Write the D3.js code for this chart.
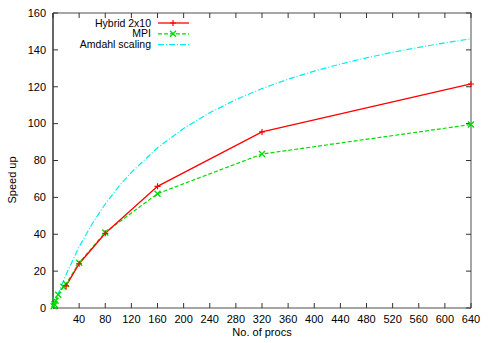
<!DOCTYPE html>
<html>
<head>
<meta charset="utf-8">
<script src="https://cdn.jsdelivr.net/npm/d3@7"></script>
<style>
  body { margin: 0; background: #fff; }
  svg { display: block; font-family: "Liberation Sans", Arial, sans-serif; font-size: 11px; }
</style>
</head>
<body>
<svg></svg>
<script>
// procs on the x axis
var hybridProcs = [20, 40, 80, 160, 320, 640];
var hybridSpeedup = [12, 24, 40.5, 66, 95.5, 121.5];

var mpiProcs = [1, 2, 4, 8, 16, 20, 40, 80, 160, 320, 640];
var mpiSpeedup = [1, 2, 3.9, 7.2, 11.5, 13, 24.5, 41, 62, 83.5, 99.5];

// Amdahl curve
var amdahlProcs = [1, 2, 5, 10, 20, 40, 60, 80, 100, 120, 160, 200, 240, 280, 320, 360, 400, 440, 480, 520, 560, 600, 640];
var amdahlSpeedup = [1, 2, 4.9, 9.5, 18.2, 33.2, 45.7, 56.4, 65.6, 73.6, 86.9, 97.4, 105.9, 113, 119, 124.1, 128.5, 132.3, 135.7, 138.7, 141.4, 143.8, 146];

var xTicks = [0, 40, 80, 120, 160, 200, 240, 280, 320, 360, 400, 440, 480, 520, 560, 600, 640];
var yTicks = [0, 20, 40, 60, 80, 100, 120, 140, 160];

var seriesNames = ["Hybrid 2x10", "MPI", "Amdahl scaling"];

var W = 491, H = 343;
var margin = {top: 13, right: 20, bottom: 35, left: 53},
    width = 471 - margin.left,
    height = 308 - margin.top;

var svg = d3.select("svg").attr("width", W).attr("height", H);
var g = svg.append("g").attr("transform", "translate(" + margin.left + "," + margin.top + ")");

var x = d3.scaleLinear().domain([0, 640]).range([0, width]);
var y = d3.scaleLinear().domain([0, 160]).range([height, 0]);

// border
g.append("line").attr("x1", 0).attr("x2", width).attr("y1", 0).attr("y2", 0).attr("stroke", "#888").attr("stroke-width", 1.5);
g.append("line").attr("x1", width).attr("x2", width).attr("y1", 0).attr("y2", height).attr("stroke", "#888").attr("stroke-width", 1.5);
g.append("line").attr("x1", 0).attr("x2", width).attr("y1", height).attr("y2", height).attr("stroke", "#888").attr("stroke-width", 1.5);
g.append("line").attr("x1", 0).attr("x2", 0).attr("y1", 0).attr("y2", height).attr("stroke", "#000").attr("stroke-width", 1.2);

// ticks (inward, mirrored)
var tk = 5;
g.selectAll(".xt").data(xTicks).enter().append("line")
    .attr("x1", function(d) { return x(d); }).attr("x2", function(d) { return x(d); })
    .attr("y1", height).attr("y2", height - tk).attr("stroke", "#333");
g.selectAll(".xt2").data(xTicks).enter().append("line")
    .attr("x1", function(d) { return x(d); }).attr("x2", function(d) { return x(d); })
    .attr("y1", 0).attr("y2", tk).attr("stroke", "#333");
g.selectAll(".yt").data(yTicks).enter().append("line")
    .attr("x1", 0).attr("x2", tk)
    .attr("y1", function(d) { return y(d); }).attr("y2", function(d) { return y(d); }).attr("stroke", "#333");
g.selectAll(".yt2").data(yTicks).enter().append("line")
    .attr("x1", width).attr("x2", width - tk)
    .attr("y1", function(d) { return y(d); }).attr("y2", function(d) { return y(d); }).attr("stroke", "#333");

// tick labels
g.selectAll(".xl").data(xTicks.filter(function(d) { return d > 0; })).enter().append("text")
    .attr("x", function(d) { return x(d); }).attr("y", height + 15)
    .attr("text-anchor", "middle").text(function(d) { return d; });
g.selectAll(".yl").data(yTicks).enter().append("text")
    .attr("x", -7).attr("y", function(d) { return y(d); }).attr("dy", "0.35em")
    .attr("text-anchor", "end").text(function(d) { return d; });

// axis titles
svg.append("text").attr("x", 262).attr("y", 336).attr("text-anchor", "middle").text("No. of procs");
svg.append("text").attr("transform", "translate(16,180) rotate(-90)").attr("text-anchor", "middle").text("Speed up");

var line = d3.line().x(function(d) { return x(d[0]); }).y(function(d) { return y(d[1]); });

var amdahl = d3.zip(amdahlProcs, amdahlSpeedup);
var hybrid = d3.zip(hybridProcs, hybridSpeedup);
var mpi = d3.zip(mpiProcs, mpiSpeedup);

var colors = ["#ff0000", "#00dd00", "#00eeee"];
var dashes = [null, "4,2", "6,2,1,2"];

g.append("path").datum(amdahl).attr("d", line).attr("fill", "none")
    .attr("stroke", colors[2]).attr("stroke-width", 1.2).attr("stroke-dasharray", dashes[2]);
g.append("path").datum(mpi).attr("d", line).attr("fill", "none")
    .attr("stroke", colors[1]).attr("stroke-width", 1.2).attr("stroke-dasharray", dashes[1]);
g.append("path").datum(hybrid).attr("d", line).attr("fill", "none")
    .attr("stroke", colors[0]).attr("stroke-width", 1.3);

function plus(sel, cx, cy, c) {
  sel.append("path").attr("d", "M" + (cx - 3) + "," + cy + "h6M" + cx + "," + (cy - 3) + "v6")
     .attr("stroke", c).attr("stroke-width", 1.2).attr("fill", "none");
}
function cross(sel, cx, cy, c) {
  sel.append("path").attr("d", "M" + (cx - 3) + "," + (cy - 3) + "l6,6M" + (cx - 3) + "," + (cy + 3) + "l6,-6")
     .attr("stroke", c).attr("stroke-width", 1.4).attr("fill", "none");
}

mpi.forEach(function(d) { cross(g, x(d[0]), y(d[1]), colors[1]); });
hybrid.forEach(function(d) { plus(g, x(d[0]), y(d[1]), colors[0]); });

// legend
var legend = svg.append("g").style("font-size", "10.5px");
seriesNames.forEach(function(name, i) {
  var ly = 23 + i * 10.8;
  legend.append("text").attr("x", 151).attr("y", ly).attr("dy", "0.35em")
      .attr("text-anchor", "end").text(name);
  legend.append("line").attr("x1", 158).attr("x2", 189).attr("y1", ly).attr("y2", ly)
      .attr("stroke", colors[i]).attr("stroke-width", i == 0 ? 1.3 : 1.2)
      .attr("stroke-dasharray", dashes[i]);
  if (i == 0) plus(legend, 173, ly, colors[0]);
  if (i == 1) cross(legend, 173, ly, colors[1]);
});
</script>
</body>
</html>
